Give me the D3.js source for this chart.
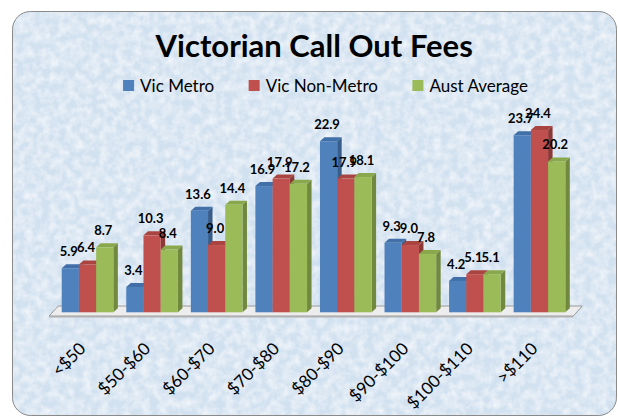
<!DOCTYPE html>
<html>
<head>
<meta charset="utf-8">
<script src="https://cdn.jsdelivr.net/npm/d3@7/dist/d3.min.js"></script>
<style>
  html, body { margin: 0; padding: 0; background: #fff; }
  #chart { width: 618px; height: 418px; }
</style>
</head>
<body>
<div id="chart"></div>
<script>
const categories = ["<$50", "$50-$60", "$60-$70", "$70-$80", "$80-$90", "$90-$100", "$100-$110", ">$110"]
const seriesNames = ["Vic Metro", "Vic Non-Metro", "Aust Average"]
const vicMetro = [5.9, 3.4, 13.6, 16.9, 22.9, 9.3, 4.2, 23.7]
const vicNonMetro = [6.4, 10.3, 9.0, 17.9, 17.9, 9.0, 5.1, 24.4]
const austAverage = [8.7, 8.4, 14.4, 17.2, 18.1, 7.8, 5.1, 20.2]

const WIDTH = 618
const HEIGHT = 418
const FONT = "Lato, 'Open Sans', sans-serif"
const DX = 4.5   // bar depth, projected
const DY = -4

const palette = [
  { front: "#4f81bd", side: "#385d8a", top: "#416fa8" },
  { front: "#c0504d", side: "#8c3836", top: "#a94441" },
  { front: "#9bbb59", side: "#71893f", top: "#89a84c" }
]

const series = [vicMetro, vicNonMetro, austAverage]

const svg = d3.select("#chart")
  .append("svg")
  .attr("width", WIDTH)
  .attr("height", HEIGHT)

const defs = svg.append("defs")

// mottled paper texture for the chart area
const filter = defs.append("filter")
  .attr("id", "paper")
  .attr("x", 0).attr("y", 0).attr("width", 1).attr("height", 1)
filter.append("feTurbulence")
  .attr("type", "fractalNoise")
  .attr("baseFrequency", 0.12)
  .attr("numOctaves", 3)
  .attr("seed", 7)
  .attr("result", "noise")
filter.append("feColorMatrix")
  .attr("in", "noise")
  .attr("type", "matrix")
  .attr("values", "0 0 0 0 1  0 0 0 0 1  0 0 0 0 1  0 0 0 1.1 -0.35")
  .attr("result", "spots")
filter.append("feComposite")
  .attr("in", "spots")
  .attr("in2", "SourceGraphic")
  .attr("operator", "in")
  .attr("result", "clipped")
filter.append("feMerge").call(m => {
  m.append("feMergeNode").attr("in", "SourceGraphic")
  m.append("feMergeNode").attr("in", "clipped")
})

// --- Frame ---
svg.append("rect")
  .attr("x", 12.5)
  .attr("y", 11.5)
  .attr("width", 604)
  .attr("height", 404)
  .attr("rx", 18)
  .attr("fill", "#d2e1f0")
  .attr("filter", "url(#paper)")

svg.append("rect")
  .attr("x", 12.5)
  .attr("y", 11.5)
  .attr("width", 604)
  .attr("height", 404)
  .attr("rx", 18)
  .attr("fill", "none")
  .attr("stroke", "#8a8a8a")
  .attr("stroke-width", 1)

// --- Scales ---
const x = d3.scaleBand()
  .domain(categories)
  .range([61.7, 565.3])
  .paddingInner(0.2)
  .paddingOuter(0)

const xs = d3.scaleBand()
  .domain(seriesNames)
  .range([0, x.bandwidth()])

const y = d3.scaleLinear()
  .domain([0, 25])
  .range([312.3, 125.55])

// --- Floor ---
const fl = x.range()[0] - 12.5
const fr = x.range()[1] + 8
const fy = y(0) + 3.7
const floorG = svg.append("g")
floorG.append("path")
  .attr("d", `M ${fl} ${fy} L ${fr} ${fy} L ${fr + 9} ${fy - 10} L ${fl + 9} ${fy - 10} Z`)
  .attr("fill", "#ededed")
  .attr("stroke", "#9a9a9a")
  .attr("stroke-width", 1)
floorG.append("path")
  .attr("d", `M ${fl} ${fy} L ${fr} ${fy} L ${fr} ${fy + 1.5} L ${fl} ${fy + 1.5} Z`)
  .attr("fill", "#b0b0b0")

// --- Bars ---
const barG = svg.append("g")

categories.forEach((cat, i) => {
  seriesNames.forEach((name, s) => {
    const v = series[s][i]
    const x0 = x(cat) + xs(name)
    const x1 = x0 + xs.bandwidth()
    const yt = y(v)
    const yb = y(0)
    const c = palette[s]

    barG.append("path")
      .attr("d", `M ${x1} ${yt} L ${x1 + DX} ${yt + DY} L ${x1 + DX} ${yb + DY} L ${x1} ${yb} Z`)
      .attr("fill", c.side)

    barG.append("path")
      .attr("d", `M ${x0} ${yt} L ${x0 + DX} ${yt + DY} L ${x1 + DX} ${yt + DY} L ${x1} ${yt} Z`)
      .attr("fill", c.top)

    barG.append("rect")
      .attr("x", x0)
      .attr("y", yt)
      .attr("width", xs.bandwidth())
      .attr("height", yb - yt)
      .attr("fill", c.front)
  })
})

// --- Value labels ---
const labelG = svg.append("g")
seriesNames.forEach((name, s) => {
  categories.forEach((cat, i) => {
    const v = series[s][i]
    labelG.append("text")
      .attr("x", x(cat) + xs(name) + xs.bandwidth() / 2 - 1.5)
      .attr("y", y(v) - 12)
      .attr("text-anchor", "middle")
      .attr("font-family", FONT)
      .attr("font-size", "13px")
      .attr("font-weight", "bold")
      .attr("fill", "#000")
      .text(v.toFixed(1))
  })
})

// --- Category axis labels ---
const axisG = svg.append("g")
  .attr("transform", "translate(0, 349)")
  .call(d3.axisBottom(x).tickSize(0).tickPadding(0))
axisG.select(".domain").remove()
axisG.selectAll(".tick text")
  .attr("font-family", FONT)
  .attr("font-size", "17px")
  .attr("fill", "#000")
  .attr("text-anchor", "end")
  .attr("dy", 0)
  .attr("y", 0)
  .attr("x", -1)
  .attr("transform", "rotate(-45)")

// --- Title ---
const title = svg.append("text")
  .attr("x", 314.2)
  .attr("y", 56.7)
  .attr("text-anchor", "middle")
  .attr("font-family", FONT)
  .attr("font-size", "31px")
  .attr("font-weight", "bold")
  .attr("fill", "#000")
  .text("Victorian Call Out Fees")
if (title.node().getComputedTextLength() > 322) {
  title.attr("textLength", 320).attr("lengthAdjust", "spacingAndGlyphs")
}

// --- Legend ---
const legendG = svg.append("g")
let lx = 0
seriesNames.forEach((name, s) => {
  const item = legendG.append("g").attr("transform", `translate(${lx}, 0)`)
  item.append("rect")
    .attr("x", 0)
    .attr("y", 80)
    .attr("width", 11)
    .attr("height", 11)
    .attr("fill", palette[s].front)
  const t = item.append("text")
    .attr("x", 17)
    .attr("y", 92)
    .attr("font-family", FONT)
    .attr("font-size", "17px")
    .attr("fill", "#000")
    .text(name)
  lx += 17 + t.node().getComputedTextLength() + 34.5
})
const legendW = lx - 34.5
legendG.attr("transform", `translate(${325.5 - legendW / 2}, 0)`)
</script>
</body>
</html>
